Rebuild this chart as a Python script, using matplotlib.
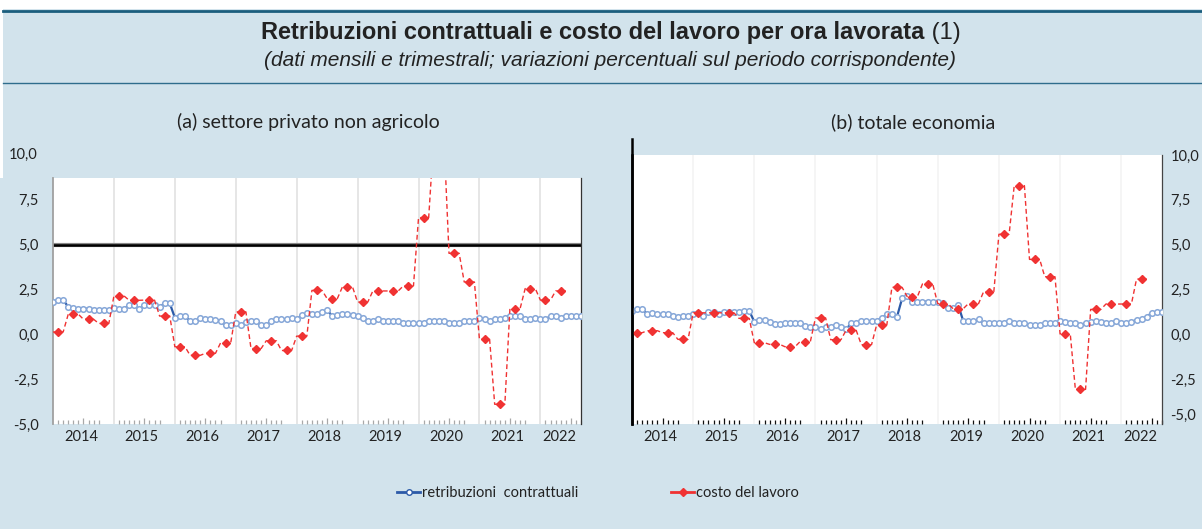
import matplotlib
matplotlib.use('Agg')
import matplotlib.pyplot as plt
import numpy as np
from matplotlib.lines import Line2D
from matplotlib.patches import Rectangle
import matplotlib.transforms as mtransforms

plt.rcParams['font.family'] = ['Lato', 'DejaVu Sans']

# ---------------- data ----------------
years = ['2014', '2015', '2016', '2017', '2018', '2019', '2020', '2021', '2022']

# monthly, Jan 2014 - Sep 2022
retrib_privato = [
    1.82, 1.91, 1.91, 1.54, 1.49, 1.43, 1.43, 1.43, 1.34, 1.34, 1.34, 1.34,
    1.47, 1.40, 1.43, 1.62, 1.62, 1.40, 1.62, 1.62, 1.62, 1.54, 1.73, 1.73,
    0.93, 1.02, 1.02, 0.74, 0.74, 0.89, 0.83, 0.83, 0.80, 0.74, 0.50, 0.50,
    0.61, 0.50, 0.69, 0.74, 0.74, 0.50, 0.50, 0.74, 0.83, 0.83, 0.83, 0.93,
    0.83, 1.06, 1.17, 1.11, 1.11, 1.24, 1.36, 1.02, 1.06, 1.15, 1.15, 1.06,
    1.02, 0.93, 0.74, 0.74, 0.83, 0.74, 0.74, 0.74, 0.74, 0.63, 0.61, 0.61,
    0.61, 0.61, 0.74, 0.74, 0.74, 0.74, 0.61, 0.61, 0.61, 0.74, 0.74, 0.74,
    0.93, 0.84, 0.72, 0.84, 0.84, 0.93, 1.02, 1.02, 1.02, 0.84, 0.84, 0.93,
    0.84, 0.84, 1.02, 1.02, 0.93, 1.02, 1.02, 1.02, 1.02,
]
retrib_totale = [
    1.32, 1.41, 1.41, 1.13, 1.20, 1.13, 1.13, 1.13, 1.04, 0.95, 1.04, 1.04,
    1.13, 1.17, 1.04, 1.22, 1.22, 1.13, 1.22, 1.22, 1.22, 1.22, 1.32, 1.32,
    0.70, 0.80, 0.80, 0.70, 0.55, 0.55, 0.64, 0.64, 0.64, 0.64, 0.46, 0.39,
    0.39, 0.28, 0.39, 0.42, 0.50, 0.39, 0.28, 0.61, 0.65, 0.72, 0.72, 0.72,
    0.76, 0.89, 1.13, 1.13, 0.98, 2.00, 2.13, 1.82, 1.82, 1.82, 1.82, 1.82,
    1.82, 1.73, 1.45, 1.45, 1.64, 0.74, 0.74, 0.74, 0.83, 0.61, 0.61, 0.61,
    0.61, 0.61, 0.74, 0.61, 0.61, 0.61, 0.52, 0.52, 0.52, 0.61, 0.61, 0.61,
    0.74, 0.70, 0.61, 0.61, 0.52, 0.61, 0.70, 0.74, 0.70, 0.61, 0.61, 0.74,
    0.61, 0.61, 0.70, 0.80, 0.85, 0.98, 1.20, 1.26, 1.26,
]

# quarterly, Q1 2014 - Q2 2022
costo_privato = [
    0.13, 1.12, 0.84, 0.61,
    2.14, 1.90, 1.91, 1.02,
    -0.69, -1.17, -1.06, -0.48,
    1.25, -0.79, -0.36, -0.90,
    -0.10, 2.45, 1.99, 2.64,
    1.80, 2.42, 2.42, 2.70,
    6.51, 11.0, 4.52, 2.92,
    -0.28, -3.90, 1.43, 2.55,
    1.91, 2.42,
]
costo_totale = [
    0.09, 0.20, 0.09, -0.28,
    1.20, 1.20, 1.20, 0.89,
    -0.47, -0.56, -0.69, -0.40,
    0.91, -0.30, 0.22, -0.58,
    0.52, 2.62, 2.10, 2.81,
    1.71, 1.43, 1.71, 2.38,
    5.58, 8.29, 4.18, 3.21,
    0.02, -3.07, 1.39, 1.69,
    1.69, 3.08,
]

ytick_vals = [-5.0, -2.5, 0.0, 2.5, 5.0, 7.5, 10.0]
ytick_labels = ['-5,0', '-2,5', '0,0', '2,5', '5,0', '7,5', '10,0']

label_blue = 'retribuzioni  contrattuali'
label_red = 'costo del lavoro'

# ---------------- figure ----------------
W, H = 1202, 529
BG = '#d2e3ec'
BLUE_LINE = '#2c5aa8'
BLUE_MARK = '#86a7d8'
RED = '#f03232'
TXT = '#222222'

def fx(x):
    return x / W

def fy(y):
    return 1 - y / H

fig = plt.figure(figsize=(W / 100, H / 100), dpi=100, facecolor=BG)

# white strips (top and left)
fig.add_artist(Rectangle((0, fy(9)), 1, 9 / H, transform=fig.transFigure,
                         facecolor='white', edgecolor='none', zorder=0))
fig.add_artist(Rectangle((0, fy(178)), 3 / W, 169 / H, transform=fig.transFigure,
                         facecolor='white', edgecolor='none', zorder=0))
# header rules
fig.add_artist(Line2D([fx(3), 1], [fy(10.5), fy(10.5)], transform=fig.transFigure,
                      color='#1b5e7e', lw=2.0))
fig.add_artist(Line2D([fx(3), 1], [fy(83), fy(83)], transform=fig.transFigure,
                      color='#2f6d8c', lw=1.0))

# title
renderer = fig.canvas.get_renderer()
t1 = fig.text(0, fy(33), 'Retribuzioni contrattuali e costo del lavoro per ora lavorata',
              fontsize=17, fontweight='bold', family=['Liberation Sans', 'DejaVu Sans'],
              color=TXT, ha='left', va='center')
t2 = fig.text(0, fy(33), ' (1)', fontsize=17, family=['Liberation Sans', 'DejaVu Sans'],
              color=TXT, ha='left', va='center')
w1 = t1.get_window_extent(renderer).width
w2 = t2.get_window_extent(renderer).width
start = 611 - (w1 + w2) / 2
t1.set_x(fx(start))
t2.set_x(fx(start + w1))
fig.text(fx(610), fy(61),
         '(dati mensili e trimestrali; variazioni percentuali sul periodo corrispondente)',
         fontsize=15, style='italic', family=['Liberation Sans', 'DejaVu Sans'],
         color=TXT, ha='center', va='center')

# panel titles
fig.text(fx(308), fy(122), '(a) settore privato non agricolo', fontsize=14,
         color=TXT, ha='center', va='center')
fig.text(fx(913), fy(122), '(b) totale economia', fontsize=14,
         color=TXT, ha='center', va='center')

axL = fig.add_axes([fx(53), fy(424), 528 / W, 246 / H])
axR = fig.add_axes([fx(632), fy(424), 530 / W, 269 / H])

label_pos = [5.5, 17.5, 29.5, 41.5, 53.5, 65.5, 77.5, 89.5, 99.7]


def draw_panel(ax, blue, red_q, ylim, grid_color, tick_color):
    ax.set_facecolor('white')
    m = np.arange(len(blue))
    ax.plot(m, blue, color=BLUE_LINE, lw=1.6, marker='o', ms=4.0,
            mfc='white', mec=BLUE_MARK, mew=1.1, zorder=3)
    red_m = np.repeat(red_q, 3)
    mr = np.arange(len(red_m))
    ax.plot(mr, red_m, color=RED, lw=1.0, ls=(0, (3.5, 2.2)), marker='D', ms=4.3,
            mfc=RED, mec=RED, markevery=slice(1, None, 3), zorder=4)
    for k in range(1, 9):
        ax.axvline(12 * k, color=grid_color, lw=1.2, zorder=1)
    ax.set_xlim(0, 104)
    ax.set_ylim(*ylim)
    months = np.arange(0, 105)
    major = [v for v in months if v % 12 == 6]
    minor = [v for v in months if v % 12 in (1, 2, 3, 4, 5, 7, 8, 9)]
    ax.set_xticks(major)
    ax.set_xticks(minor, minor=True)
    ax.tick_params(axis='x', which='major', direction='in', length=4.5, width=0.9,
                   color=tick_color, labelbottom=False)
    ax.tick_params(axis='x', which='minor', direction='in', length=2.6, width=0.9,
                   color=tick_color, labelbottom=False)
    tr = mtransforms.blended_transform_factory(ax.transData, fig.transFigure)
    for lab, p in zip(years, label_pos):
        ax.text(p, fy(437), lab, transform=tr, ha='center', va='center',
                fontsize=10.5, color=TXT, clip_on=False)
    ax.spines['top'].set_visible(False)
    ax.spines['bottom'].set_visible(False)


draw_panel(axL, retrib_privato, costo_privato, (-5, 8.72), '#e2e2e2', '#a8a8a8')
draw_panel(axR, retrib_totale, costo_totale, (-5, 10), '#f3f3f3', '#111111')

# left panel extras
axL.axhline(5, color='#8a8a8a', lw=3.0, zorder=2)
axL.axhline(5, color='black', lw=1.8, zorder=2)
axL.set_yticks(ytick_vals[:-1])
axL.set_yticklabels(ytick_labels[:-1])
axL.tick_params(axis='y', length=0, pad=10.5, labelsize=10.5, labelcolor=TXT)
fig.text(fx(38), fy(155), ytick_labels[-1], ha='right', va='center', fontsize=10.5, color=TXT)
axL.spines['left'].set_color('#a0a0a0')
axL.spines['left'].set_linewidth(1.3)
axL.spines['right'].set_color('#333333')
axL.spines['right'].set_linewidth(0.9)

# right panel extras
axR.set_yticks(ytick_vals)
axR.set_yticklabels(ytick_labels)
axR.yaxis.tick_right()
axR.tick_params(axis='y', length=0, pad=6, labelsize=10.5, labelcolor=TXT)
lbls = axR.get_yticklabels()
lbls[0].set_transform(lbls[0].get_transform() +
                      mtransforms.ScaledTranslation(0, 10 / 100, fig.dpi_scale_trans))
axR.spines['left'].set_color('black')
axR.spines['left'].set_linewidth(1.8)
axR.spines['right'].set_color('#444444')
axR.spines['right'].set_linewidth(0.9)
fig.add_artist(Line2D([fx(632.4), fx(632.4)], [fy(424), fy(139)], transform=fig.transFigure,
                      color='black', lw=1.8))

# legend
h1 = Line2D([], [], color=BLUE_LINE, lw=2.0, marker='o', ms=4, mfc='white', mec=BLUE_LINE, mew=1.0)
h2 = Line2D([], [], color=RED, lw=2.0, marker='D', ms=4, mfc=RED, mec=RED)
for h, lab, x0 in ((h1, label_blue, 397), (h2, label_red, 671)):
    leg = fig.legend([h], [lab], loc='center left', bbox_to_anchor=(fx(x0), fy(493)),
                     frameon=False, handlelength=1.6, handletextpad=0.1, borderpad=0,
                     borderaxespad=0, fontsize=10.5)
    for t in leg.get_texts():
        t.set_color(TXT)

fig.savefig('out.png', dpi=100, facecolor=BG)
